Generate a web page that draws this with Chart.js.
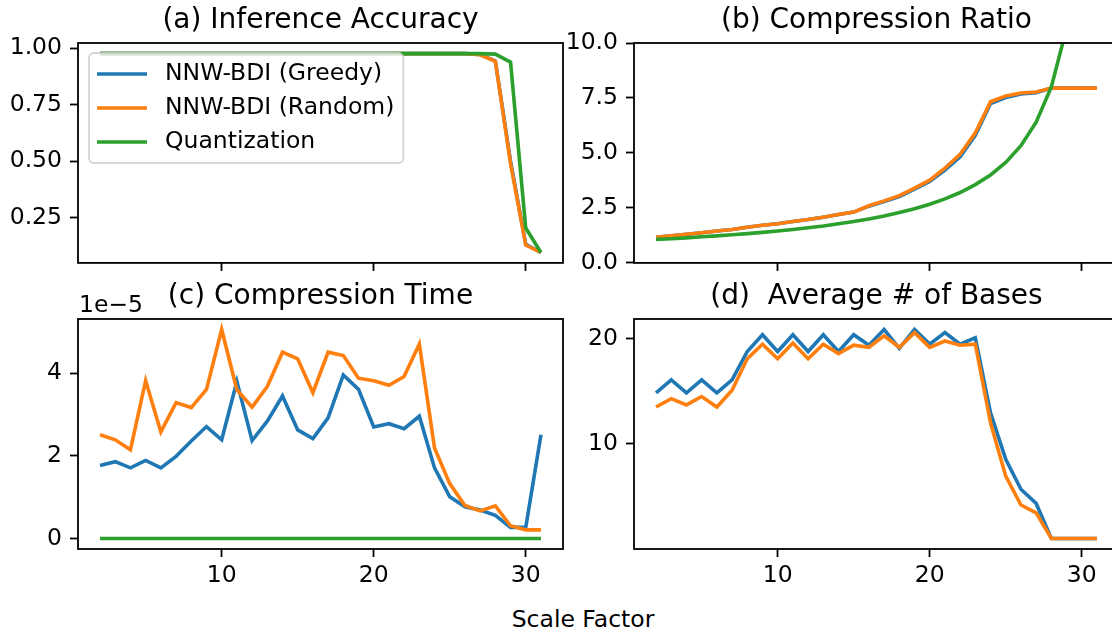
<!DOCTYPE html>
<html>
<head>
<meta charset="utf-8">
<script src="https://cdn.jsdelivr.net/npm/chart.js@4.4.1/dist/chart.umd.min.js"></script>
<style>
html, body { margin: 0; padding: 0; background: #fff; }
#fig { position: relative; width: 1112px; height: 631px; overflow: hidden; background: #fff; font-family: 'DejaVu Sans', sans-serif; }
#fig canvas { position: absolute; }
#xlabel { position: absolute; left: 433px; top: 607px; width: 300px; text-align: center; font-size: 23.5px; line-height: 24px; color: #000; }
</style>
</head>
<body>
<div id="fig">
  <canvas id="accChart" width="557" height="281" style="left:8px;top:4px"></canvas>
  <canvas id="ratioChart" width="557" height="281" style="left:564px;top:4px"></canvas>
  <canvas id="timeChart" width="557" height="309" style="left:8px;top:280px"></canvas>
  <canvas id="basesChart" width="557" height="309" style="left:564px;top:280px"></canvas>
  <div id="xlabel">Scale Factor</div>
</div>
<script>
var scaleFactor = [2, 3, 4, 5, 6, 7, 8, 9, 10, 11, 12, 13, 14, 15, 16, 17, 18, 19, 20, 21, 22, 23, 24, 25, 26, 27, 28, 29, 30, 31];
var xTicks = [10, 20, 30];

// (a) inference accuracy
var accGreedy = [0.976, 0.976, 0.976, 0.976, 0.976, 0.976, 0.976, 0.976, 0.976, 0.976, 0.976, 0.976, 0.976, 0.976, 0.976, 0.976, 0.976, 0.976, 0.976, 0.976, 0.976, 0.976, 0.976, 0.976, 0.976, 0.972, 0.943, 0.50, 0.133, 0.097];
var accRandom = [0.976, 0.976, 0.976, 0.976, 0.976, 0.976, 0.976, 0.976, 0.976, 0.976, 0.976, 0.976, 0.976, 0.976, 0.976, 0.976, 0.976, 0.976, 0.976, 0.976, 0.976, 0.976, 0.976, 0.976, 0.976, 0.971, 0.942, 0.49, 0.130, 0.097];
var accQuant = [0.976, 0.976, 0.976, 0.976, 0.976, 0.976, 0.976, 0.976, 0.976, 0.976, 0.976, 0.976, 0.976, 0.976, 0.976, 0.976, 0.976, 0.976, 0.976, 0.976, 0.976, 0.976, 0.976, 0.976, 0.976, 0.976, 0.974, 0.938, 0.205, 0.097];
var accTicks = [0.25, 0.5, 0.75, 1.0];
var accTickLabels = ['0.25', '0.50', '0.75', '1.00'];

// (b) compression ratio
var ratioGreedy = [1.16, 1.23, 1.30, 1.37, 1.45, 1.52, 1.62, 1.71, 1.78, 1.88, 1.97, 2.08, 2.20, 2.31, 2.58, 2.79, 3.02, 3.35, 3.70, 4.22, 4.82, 5.80, 7.25, 7.52, 7.68, 7.74, 7.95, 7.95, 7.95, 7.95];
var ratioRandom = [1.16, 1.23, 1.30, 1.37, 1.45, 1.52, 1.62, 1.71, 1.78, 1.88, 1.97, 2.08, 2.20, 2.31, 2.60, 2.82, 3.06, 3.40, 3.76, 4.31, 4.94, 5.92, 7.33, 7.59, 7.73, 7.77, 7.95, 7.95, 7.95, 7.95];
var ratioQuant = [1.07, 1.10, 1.14, 1.19, 1.23, 1.28, 1.33, 1.39, 1.45, 1.52, 1.60, 1.68, 1.78, 1.88, 2.00, 2.13, 2.29, 2.46, 2.67, 2.91, 3.20, 3.56, 4.00, 4.57, 5.33, 6.40, 8.00, 10.67, 16.0, 32.0];
var ratioTicks = [0, 2.5, 5, 7.5, 10];
var ratioTickLabels = ['0.0', '2.5', '5.0', '7.5', '10.0'];

// (c) compression time, in units of 1e-5
var timeGreedy = [1.77, 1.86, 1.71, 1.89, 1.71, 1.99, 2.36, 2.71, 2.39, 3.80, 2.37, 2.84, 3.45, 2.63, 2.42, 2.92, 3.96, 3.61, 2.70, 2.78, 2.66, 2.96, 1.71, 1.01, 0.77, 0.69, 0.56, 0.27, 0.27, 2.51];
var timeRandom = [2.51, 2.39, 2.15, 3.82, 2.58, 3.29, 3.17, 3.61, 5.06, 3.60, 3.18, 3.68, 4.51, 4.35, 3.53, 4.51, 4.43, 3.88, 3.82, 3.71, 3.92, 4.71, 2.19, 1.33, 0.80, 0.67, 0.79, 0.31, 0.21, 0.21];
var timeQuant = [0, 0, 0, 0, 0, 0, 0, 0, 0, 0, 0, 0, 0, 0, 0, 0, 0, 0, 0, 0, 0, 0, 0, 0, 0, 0, 0, 0, 0, 0];
var timeTicks = [0, 2, 4];
var timeTickLabels = ['0', '2', '4'];

// (d) average number of bases
var basesGreedy = [14.86, 16.1, 14.86, 16.1, 14.86, 16.1, 18.8, 20.4, 18.8, 20.4, 18.8, 20.4, 18.8, 20.4, 19.4, 20.9, 19.1, 20.9, 19.5, 20.6, 19.5, 20.1, 12.95, 8.5, 5.65, 4.3, 0.95, 0.95, 0.95, 0.95];
var basesRandom = [13.5, 14.3, 13.7, 14.5, 13.5, 15.1, 18.1, 19.5, 18.1, 19.6, 18.1, 19.5, 18.6, 19.4, 19.2, 20.3, 19.2, 20.6, 19.2, 19.8, 19.4, 19.5, 12.0, 6.9, 4.15, 3.4, 0.95, 0.95, 0.95, 0.95];
var basesTicks = [10, 20];
var basesTickLabels = ['10', '20'];

Chart.defaults.font.family = "'DejaVu Sans', sans-serif";
Chart.defaults.font.size = 23.5;
Chart.defaults.color = '#000';

var blue = '#1f77b4', orange = '#ff7f0e', green = '#2ca02c';

function series(label, values, color, order) {
    return {
        label: label,
        data: scaleFactor.map(function (x, i) { return { x: x, y: values[i] }; }),
        borderColor: color,
        backgroundColor: color,
        borderWidth: 3.6,
        pointRadius: 0,
        fill: false,
        tension: 0,
        order: order
    };
}

// box around the plot area, like matplotlib spines
var framePlugin = {
    id: 'frame',
    afterDatasetsDraw: function (chart) {
        var a = chart.chartArea, ctx = chart.ctx;
        ctx.save();
        ctx.strokeStyle = '#000';
        ctx.lineWidth = 1.8;
        ctx.strokeRect(a.left, a.top, a.right - a.left, a.bottom - a.top);
        ctx.restore();
    }
};

var legendPlugin = {
    id: 'boxLegend',
    afterDraw: function (chart, args, opts) {
        if (!opts.show) return;
        var ctx = chart.ctx, a = chart.chartArea;
        var items = chart.data.datasets;
        ctx.save();
        ctx.font = "23.5px 'DejaVu Sans'";
        var tw = Math.max.apply(null, items.map(function (d) { return ctx.measureText(d.label).width; }));
        var x0 = a.left + 11, y0 = a.top + 10, w = 76 + tw + 9, h = 110;
        ctx.beginPath();
        ctx.roundRect(x0, y0, w, h, 5);
        ctx.fillStyle = 'rgba(255,255,255,0.8)';
        ctx.fill();
        ctx.strokeStyle = 'rgba(204,204,204,0.8)';
        ctx.lineWidth = 1.8;
        ctx.stroke();
        items.forEach(function (d, i) {
            var y = y0 + 21 + i * 34;
            ctx.strokeStyle = d.borderColor;
            ctx.lineWidth = 3.6;
            ctx.beginPath();
            ctx.moveTo(x0 + 8, y);
            ctx.lineTo(x0 + 58, y);
            ctx.stroke();
            ctx.fillStyle = '#000';
            ctx.textBaseline = 'middle';
            ctx.fillText(d.label, x0 + 76, y);
        });
        ctx.restore();
    }
};

var offsetTextPlugin = {
    id: 'offsetText',
    afterDraw: function (chart, args, opts) {
        if (!opts.text) return;
        var ctx = chart.ctx, a = chart.chartArea;
        ctx.save();
        ctx.font = "23.5px 'DejaVu Sans'";
        ctx.fillStyle = '#000';
        ctx.textBaseline = 'alphabetic';
        ctx.fillText(opts.text, a.left + 1, a.top - 7);
        ctx.restore();
    }
};

var tickGrid = { drawOnChartArea: false, drawTicks: true, tickLength: 8, tickWidth: 1.8, tickColor: '#000' };

function xAxis(showLabels) {
    return {
        type: 'linear',
        min: 0.55,
        max: 32.45,
        afterBuildTicks: function (s) { s.ticks = xTicks.map(function (v) { return { value: v }; }); },
        afterFit: function (s) { s.height = showLabels ? 40 : 12; },
        grid: tickGrid,
        border: { display: false },
        ticks: { display: showLabels, padding: 5, maxRotation: 0, autoSkip: false, color: '#000' }
    };
}

function yAxis(min, max, ticks, labels) {
    return {
        type: 'linear',
        min: min,
        max: max,
        afterBuildTicks: function (s) { s.ticks = ticks.map(function (v) { return { value: v }; }); },
        afterFit: function (s) { s.width = 70; },
        grid: tickGrid,
        border: { display: false },
        ticks: { padding: 8, autoSkip: false, color: '#000', callback: function (v, i) { return labels[i]; } }
    };
}

function makeChart(id, title, datasets, y, showX, extra) {
    extra = extra || {};
    return new Chart(id, {
        type: 'line',
        data: { datasets: datasets },
        options: {
            responsive: false,
            animation: false,
            layout: { padding: { left: 0, right: 2, top: 0, bottom: 0 } },
            plugins: {
                legend: { display: false },
                tooltip: { enabled: false },
                title: {
                    display: true,
                    fullSize: false,
                    text: title,
                    color: '#000',
                    font: { size: 28, weight: 'normal', lineHeight: 1.2 },
                    padding: { top: 0, bottom: 5.4 }
                },
                boxLegend: { show: !!extra.legend },
                offsetText: { text: extra.offsetText || '' }
            },
            scales: { x: xAxis(showX), y: y }
        },
        plugins: [framePlugin, legendPlugin, offsetTextPlugin]
    });
}

makeChart('accChart', '(a) Inference Accuracy', [
    series('NNW-BDI (Greedy)', accGreedy, blue, 2),
    series('NNW-BDI (Random)', accRandom, orange, 1),
    series('Quantization', accQuant, green, 0)
], yAxis(0.051, 1.023, accTicks, accTickLabels), false, { legend: true });

makeChart('ratioChart', '(b) Compression Ratio', [
    series('NNW-BDI (Greedy)', ratioGreedy, blue, 2),
    series('NNW-BDI (Random)', ratioRandom, orange, 1),
    series('Quantization', ratioQuant, green, 0)
], yAxis(0, 10, ratioTicks, ratioTickLabels), false);

makeChart('timeChart', '(c) Compression Time', [
    series('NNW-BDI (Greedy)', timeGreedy, blue, 2),
    series('NNW-BDI (Random)', timeRandom, orange, 1),
    series('Quantization', timeQuant, green, 0)
], yAxis(-0.253, 5.313, timeTicks, timeTickLabels), true, { offsetText: '1e\u22125' });

makeChart('basesChart', '(d)  Average # of Bases', [
    series('NNW-BDI (Greedy)', basesGreedy, blue, 2),
    series('NNW-BDI (Random)', basesRandom, orange, 1)
], yAxis(-0.05, 21.9, basesTicks, basesTickLabels), true);
</script>
</body>
</html>
